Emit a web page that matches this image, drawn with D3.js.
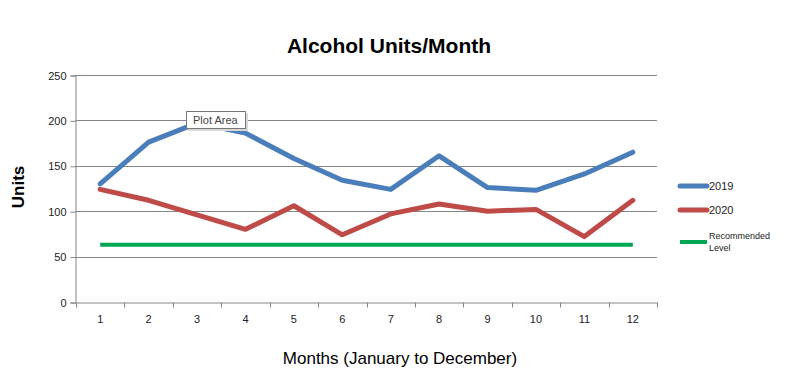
<!DOCTYPE html>
<html>
<head>
<meta charset="utf-8">
<script src="https://cdn.jsdelivr.net/npm/d3@7"></script>
<style>
	body { margin: 0; background: #fff; }
	svg { display: block; font-family: 'Liberation Sans', Arial, sans-serif; }
</style>
</head>
<body>
<script>
var width = 793,
	height = 385;

var months = ['1', '2', '3', '4', '5', '6', '7', '8', '9', '10', '11', '12'];
var units2019 = [130, 176, 197, 186, 158, 134, 124, 161, 126, 123, 141, 165];
var units2020 = [124, 112, 96, 80, 106, 74, 97, 108, 100, 102, 72, 112];
var recommended = [63, 63, 63, 63, 63, 63, 63, 63, 63, 63, 63, 63];
var yTicks = [0, 50, 100, 150, 200, 250];

var series = [
	{ name: '2019', values: units2019, color: '#4a7ebb', w: 5 },
	{ name: '2020', values: units2020, color: '#be4b48', w: 5 },
	{ name: 'Recommended Level', values: recommended, color: '#00a651', w: 4 }
];

var m = { left: 75, right: 136, top: 75, bottom: 83 };

var svg = d3.select('body')
	.append('svg')
	.attr('width', width)
	.attr('height', height);

var x = d3.scaleBand()
	.domain(months)
	.range([m.left + 1, width - m.right]);

var y = d3.scaleLinear()
	.domain([0, 250])
	.range([height - m.bottom, m.top]);

// gridlines
svg.append('g')
	.selectAll('line')
	.data(yTicks.slice(1))
	.enter()
	.append('line')
	.attr('x1', m.left)
	.attr('x2', width - m.right)
	.attr('y1', function(d) { return Math.round(y(d)) + 0.5; })
	.attr('y2', function(d) { return Math.round(y(d)) + 0.5; })
	.attr('stroke', '#868686');

// y axis
var yAxis = svg.append('g')
	.attr('transform', 'translate(' + (m.left + 0.5) + ',0.5)')
	.call(d3.axisLeft(y).tickValues(yTicks).tickSize(5).tickPadding(4));

// x axis with ticks on category boundaries
var xAxis = svg.append('g')
	.attr('transform', 'translate(0,' + (Math.round(y(0)) + 0.5) + ')')
	.call(d3.axisBottom(x).tickSize(0).tickPadding(13));

xAxis.append('g')
	.selectAll('line')
	.data(d3.range(months.length + 1))
	.enter()
	.append('line')
	.attr('x1', function(d) { return Math.round(x.range()[0] + d * x.step()) + 0.5; })
	.attr('x2', function(d) { return Math.round(x.range()[0] + d * x.step()) + 0.5; })
	.attr('y1', 0)
	.attr('y2', 5)
	.attr('stroke', '#868686');

[yAxis, xAxis].forEach(function(a) {
	a.select('.domain').attr('stroke', '#868686');
	a.selectAll('.tick line').attr('stroke', '#868686');
	a.selectAll('text')
		.attr('font-size', 11)
		.attr('fill', '#222')
		.attr('font-family', "'Liberation Sans', Arial, sans-serif");
});

// lines
var line = d3.line()
	.x(function(d, i) { return x(months[i]) + x.bandwidth() / 2; })
	.y(function(d) { return y(d); });

svg.append('g')
	.selectAll('path')
	.data(series.slice().reverse())
	.enter()
	.append('path')
	.attr('d', function(d) { return line(d.values); })
	.attr('fill', 'none')
	.attr('stroke', function(d) { return d.color; })
	.attr('stroke-width', function(d) { return d.w; })
	.attr('stroke-linejoin', 'round')
	.attr('stroke-linecap', function(d) { return d.w == 5 ? 'round' : 'butt'; });

// titles
svg.append('text')
	.attr('x', 389)
	.attr('y', 53)
	.attr('text-anchor', 'middle')
	.attr('font-size', 21)
	.attr('font-weight', 'bold')
	.text('Alcohol Units/Month');

svg.append('text')
	.attr('transform', 'translate(24,187) rotate(-90)')
	.attr('text-anchor', 'middle')
	.attr('font-size', 17)
	.attr('font-weight', 'bold')
	.text('Units');

svg.append('text')
	.attr('x', 400)
	.attr('y', 364)
	.attr('text-anchor', 'middle')
	.attr('font-size', 17)
	.text('Months (January to December)');

// legend
var legendY = [186, 210, 242];
var legend = svg.append('g')
	.selectAll('g')
	.data(series)
	.enter()
	.append('g')
	.attr('transform', function(d, i) { return 'translate(680,' + legendY[i] + ')'; });

legend.append('line')
	.attr('x1', 0)
	.attr('x2', 27)
	.attr('stroke', function(d) { return d.color; })
	.attr('stroke-width', function(d) { return d.w; })
	.attr('stroke-linecap', function(d) { return d.w == 5 ? 'round' : 'butt'; });

legend.each(function(d) {
	var words = d.name.split(' ');
	var small = words.length > 1;
	var t = d3.select(this).append('text')
		.attr('x', 29)
		.attr('y', small ? -3 : 4)
		.attr('font-size', small ? 9 : 11)
		.attr('fill', '#222');
	words.forEach(function(w, i) {
		t.append('tspan')
			.attr('x', 29)
			.attr('dy', i ? 12 : 0)
			.text(w);
	});
});

// "Plot Area" hover tag
var tag = svg.append('g').attr('transform', 'translate(186,111)');
tag.append('rect')
	.attr('x', 2).attr('y', 2)
	.attr('width', 60).attr('height', 18)
	.attr('fill', '#d8d8d8');
tag.append('rect')
	.attr('x', 0.5).attr('y', 0.5)
	.attr('width', 59).attr('height', 17)
	.attr('fill', '#fff')
	.attr('stroke', '#767676');
tag.append('text')
	.attr('x', 7).attr('y', 13)
	.attr('font-size', 11)
	.attr('fill', '#444')
	.text('Plot Area');
</script>
</body>
</html>
